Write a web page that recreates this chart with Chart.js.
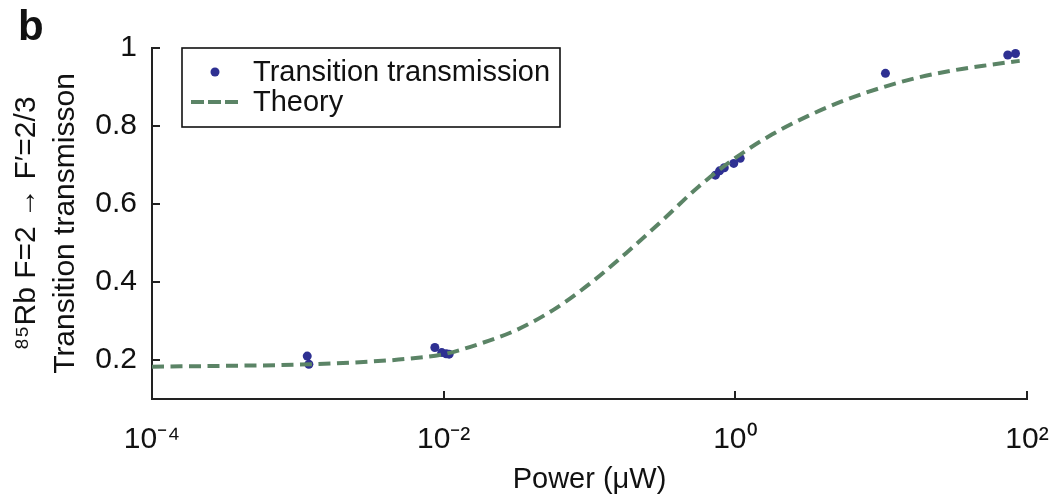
<!DOCTYPE html>
<html><head><meta charset="utf-8">
<script src="https://cdn.jsdelivr.net/npm/chart.js@4.4.0/dist/chart.umd.min.js"></script>
<style>html,body{margin:0;padding:0;background:#fff;} canvas{display:block;}</style>
</head><body>
<canvas id="c" width="1051" height="496"></canvas>
<script>
// ---- data ----
const measPower = [1.16e-3, 1.19e-3, 8.7e-3, 9.7e-3, 1.04e-2, 1.09e-2, 0.73, 0.78, 0.84, 0.975, 1.08, 10.7, 73.8, 83.4];
const measTrans = [0.210, 0.189, 0.232, 0.219, 0.216, 0.215, 0.674, 0.685, 0.693, 0.704, 0.717, 0.935, 0.982, 0.986];
const theoryPower = [1e-4, 3.16e-4, 1e-3, 3.16e-3, 5.62e-3, 1e-2, 1.78e-2, 3.16e-2, 5.62e-2, 0.1, 0.178, 0.316, 0.562, 1, 1.78, 3.16, 5.62, 10, 17.8, 31.6, 56.2, 89.1];
const theoryTrans = [0.183, 0.185, 0.188, 0.196, 0.203, 0.215, 0.242, 0.277, 0.328, 0.395, 0.474, 0.558, 0.645, 0.718, 0.778, 0.826, 0.866, 0.898, 0.924, 0.943, 0.957, 0.967];
const xTickValues = [1e-4, 1e-2, 1, 100];
const xTickLabels = ['10⁻⁴', '10⁻²', '10⁰', '10²'];
const yTickValues = [0.2, 0.4, 0.6, 0.8, 1];
const yTickLabels = ['0.2', '0.4', '0.6', '0.8', '1'];
const seriesLabels = ['Transition transmission', 'Theory'];
const yTitle = ['⁸⁵Rb F=2 → F′=2/3', 'Transition transmisson'];
const xTitle = 'Power (μW)';
const panelLetter = 'b';

const FONT = "'Liberation Sans', Arial, Helvetica, sans-serif";
const BLUE = '#2e3092';
const GREEN = '#5b8466';

const legendPlugin = {
  id: 'boxLegend',
  afterDraw(chart) {
    const ctx = chart.ctx;
    ctx.save();
    const x0 = 182, y0 = 48, w = 378, h = 79;
    ctx.fillStyle = '#fff';
    ctx.fillRect(x0, y0, w, h);
    ctx.strokeStyle = '#111';
    ctx.lineWidth = 1.6;
    ctx.strokeRect(x0, y0, w, h);
    const ds = chart.data.datasets;
    const rows = [72, 102];
    ctx.font = '29px ' + FONT;
    ctx.textBaseline = 'middle';
    ctx.textAlign = 'left';
    ds.forEach((d, i) => {
      const y = rows[i];
      if (d.type === 'scatter') {
        ctx.fillStyle = d.backgroundColor;
        ctx.beginPath();
        ctx.arc(215, y, 4.5, 0, Math.PI * 2);
        ctx.fill();
      } else {
        ctx.strokeStyle = d.borderColor;
        ctx.lineWidth = d.borderWidth;
        ctx.setLineDash([13, 4]);
        ctx.beginPath();
        ctx.moveTo(191, y);
        ctx.lineTo(239, y);
        ctx.stroke();
        ctx.setLineDash([]);
      }
      ctx.fillStyle = '#111';
      ctx.fillText(d.label, 253, y + 1);
    });
    ctx.font = 'bold 42px ' + FONT;
    ctx.fillStyle = '#111';
    ctx.textBaseline = 'alphabetic';
    ctx.fillText(panelLetter, 18, 40);
    ctx.restore();
  }
};

new Chart(document.getElementById('c'), {
  data: {
    datasets: [
      {
        type: 'scatter',
        label: seriesLabels[0],
        data: measPower.map((p, i) => ({x: p, y: measTrans[i]})),
        backgroundColor: BLUE,
        borderWidth: 0,
        pointRadius: 4.5,
        order: 2
      },
      {
        type: 'line',
        label: seriesLabels[1],
        data: theoryPower.map((p, i) => ({x: p, y: theoryTrans[i]})),
        borderColor: GREEN,
        borderWidth: 4,
        borderDash: [12, 6.5],
        borderCapStyle: 'butt',
        pointRadius: 0,
        fill: false,
        cubicInterpolationMode: 'monotone',
        order: 1
      }
    ]
  },
  options: {
    responsive: false,
    animation: false,
    devicePixelRatio: 1,
    layout: {padding: {top: 48, right: 24, left: 0, bottom: 0}},
    plugins: {legend: {display: false}, tooltip: {enabled: false}},
    scales: {
      x: {
        type: 'logarithmic',
        min: 1e-4, max: 100,
        afterBuildTicks: s => { s.ticks = xTickValues.map(v => ({value: v})); },
        afterFit: s => { s.height = 97; s.paddingLeft = 0; s.paddingRight = 0; },
        ticks: {
          autoSkip: false, maxRotation: 0, padding: 31, color: '#111',
          font: {family: FONT, size: 30},
          callback: (v) => { const i = xTickValues.indexOf(v); return i >= 0 ? xTickLabels[i] : ''; }
        },
        grid: {display: true, drawOnChartArea: false, drawTicks: true, tickLength: -8, color: '#222', lineWidth: 2},
        border: {display: true, color: '#222', width: 2},
        title: {display: true, text: xTitle, color: '#111', font: {family: FONT, size: 29, lineHeight: 1.1}, padding: {top: 0, bottom: 0}}
      },
      y: {
        type: 'linear',
        min: 0.1, max: 1,
        afterBuildTicks: s => { s.ticks = yTickValues.map(v => ({value: v})); },
        afterFit: s => { s.width = 152; s.paddingTop = 0; s.paddingBottom = 0; },
        ticks: {
          padding: 23, color: '#111',
          font: {family: FONT, size: 30},
          callback: (v) => { const i = yTickValues.indexOf(v); return i >= 0 ? yTickLabels[i] : ''; }
        },
        grid: {display: true, drawOnChartArea: false, drawTicks: true, tickLength: -8, color: '#222', lineWidth: 2},
        border: {display: true, color: '#222', width: 2},
        title: {display: true, text: yTitle, color: '#111', font: {family: FONT, size: 30, lineHeight: 1.3}, padding: {top: 7, bottom: 0}}
      }
    }
  },
  plugins: [legendPlugin]
});
</script>
</body></html>
